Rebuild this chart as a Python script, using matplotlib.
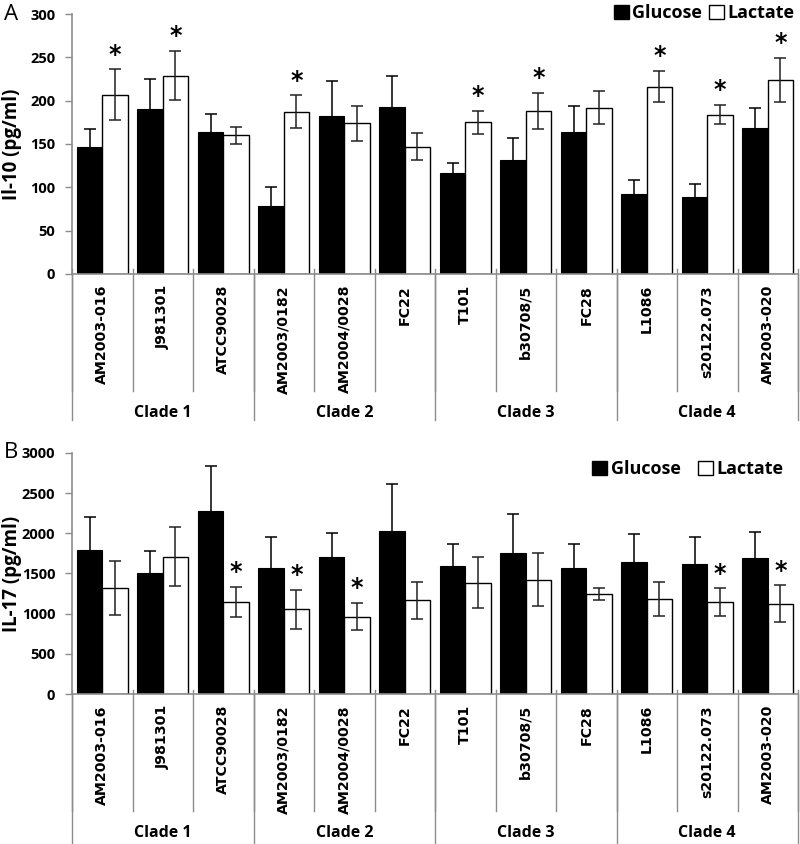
import matplotlib
matplotlib.use("Agg")
import matplotlib.pyplot as plt
import numpy as np
from matplotlib.patches import Patch
from matplotlib.transforms import blended_transform_factory

strains = ["AM2003-016", "J981301", "ATCC90028", "AM2003/0182", "AM2004/0028", "FC22",
           "T101", "b30708/5", "FC28", "L1086", "s20122.073", "AM2003-020"]
clades = ["Clade 1", "Clade 2", "Clade 3", "Clade 4"]
clade_sizes = [3, 3, 3, 3]

il10_glu = [147, 190, 164, 79, 182, 193, 116, 132, 164, 92, 89, 168]
il10_glu_err = [20, 35, 21, 21, 41, 35, 12, 25, 30, 17, 15, 24]
il10_lac = [207, 229, 160, 187, 174, 147, 175, 188, 192, 216, 184, 224]
il10_lac_err = [29, 28, 10, 19, 20, 16, 13, 21, 19, 18, 11, 25]
il10_sig = [1, 1, 0, 1, 0, 0, 1, 1, 0, 1, 1, 1]

il17_glu = [1790, 1500, 2282, 1563, 1702, 2034, 1592, 1756, 1567, 1647, 1618, 1697]
il17_glu_err = [416, 277, 550, 387, 306, 579, 274, 479, 299, 345, 336, 320]
il17_lac = [1319, 1710, 1147, 1055, 962, 1164, 1387, 1424, 1244, 1185, 1143, 1122]
il17_lac_err = [332, 366, 185, 243, 168, 227, 315, 332, 71, 214, 172, 231]
il17_sig = [0, 0, 1, 1, 1, 0, 0, 0, 0, 0, 1, 1]

GRAY = "#8c8c8c"
BW = 0.42
SANS = "Open Sans"


def panel(ax, glu, glu_err, lac, lac_err, sig, ymax, ystep, ylabel, letter, sep_len, clade_len,
          leg_anchor, leg_gap):
    x = np.arange(len(strains))
    ax.bar(x - BW / 2, glu, BW, color="black", edgecolor="black", linewidth=0.8,
           yerr=glu_err, error_kw=dict(ecolor="black", elinewidth=1.1, capsize=4, capthick=1.1))
    ax.bar(x + BW / 2, lac, BW, color="white", edgecolor="black", linewidth=1.0,
           yerr=lac_err, error_kw=dict(ecolor="#222222", elinewidth=1.1, capsize=4, capthick=1.1))
    for i, s in enumerate(sig):
        if s:
            ax.annotate("*", (x[i] + BW / 2, lac[i] + lac_err[i]), xytext=(0, 2),
                        textcoords="offset points", ha="center", va="bottom",
                        fontsize=17, fontweight="bold", family="DejaVu Sans")

    ax.set_xlim(-0.5, len(strains) - 0.5)
    ax.set_ylim(0, ymax)
    ax.set_yticks(np.arange(0, ymax + 1, ystep))
    ax.tick_params(axis="y", direction="out", length=5, color=GRAY, width=1, pad=7)
    for lab in ax.get_yticklabels():
        lab.set_fontfamily(SANS)
        lab.set_fontweight("bold")
        lab.set_fontsize(10.5)
    ax.set_xticks([])
    for sp in ["top", "right"]:
        ax.spines[sp].set_visible(False)
    ax.spines["left"].set_color(GRAY)
    ax.spines["bottom"].set_color(GRAY)
    ax.spines["left"].set_linewidth(1.2)
    ax.spines["bottom"].set_linewidth(1.2)
    ax.set_ylabel(ylabel, fontsize=13.5, fontweight="bold", family=SANS)
    w_ax = ax.get_position().width * 800
    ax.yaxis.set_label_coords(-50 / w_ax, 0.5)

    # category axis decorations: separators, labels and clade groups
    tr = blended_transform_factory(ax.transData, ax.transAxes)
    h_ax = ax.get_position().height * 844
    for b in np.arange(-0.5, len(strains)):
        ax.plot([b, b], [0.018, -sep_len / h_ax], color=GRAY, lw=1, transform=tr, clip_on=False)
    edges = np.concatenate([[0], np.cumsum(clade_sizes)]) - 0.5
    for b in edges:
        ax.plot([b, b], [0, -clade_len / h_ax], color=GRAY, lw=1, transform=tr, clip_on=False)
    for i, name in enumerate(strains):
        ax.text(x[i], -11 / h_ax, name, transform=tr, rotation=90, ha="center", va="top",
                fontsize=10.2, fontweight="bold", family="DejaVu Sans")
    for j, name in enumerate(clades):
        mid = (edges[j] + edges[j + 1]) / 2
        ax.text(mid, -(sep_len + 22) / h_ax, name, transform=tr, ha="center", va="center",
                fontsize=11.5, fontweight="bold", family=SANS)

    handles = [Patch(facecolor="black", edgecolor="black", label="Glucose"),
               Patch(facecolor="white", edgecolor="black", label="Lactate")]
    ax.legend(handles=handles, ncol=2, frameon=False, loc="upper right",
              bbox_to_anchor=leg_anchor, prop=dict(family=SANS, weight="bold", size=13),
              handlelength=0.8, handleheight=0.8, handletextpad=0.2, columnspacing=leg_gap,
              borderaxespad=0)
    ax.text(-68 / w_ax, 1.0, letter, transform=ax.transAxes,
            fontsize=16, family=SANS, ha="left", va="center")


fig = plt.figure(figsize=(8.0, 8.44), dpi=100)
ax1 = fig.add_axes([0.09, 0.6754, 0.9075, 0.308])
ax2 = fig.add_axes([0.09, 0.1777, 0.9075, 0.2856])

panel(ax1, il10_glu, il10_glu_err, il10_lac, il10_lac_err, il10_sig, 300, 50,
      "Il-10 (pg/ml)", "A", 117, 146, (1.005, 1.065), 0.4)
panel(ax2, il17_glu, il17_glu_err, il17_lac, il17_lac_err, il17_sig, 3000, 500,
      "IL-17 (pg/ml)", "B", 117, 150, (0.99, 1.0), 1.0)

fig.savefig("out.png", dpi=100)
